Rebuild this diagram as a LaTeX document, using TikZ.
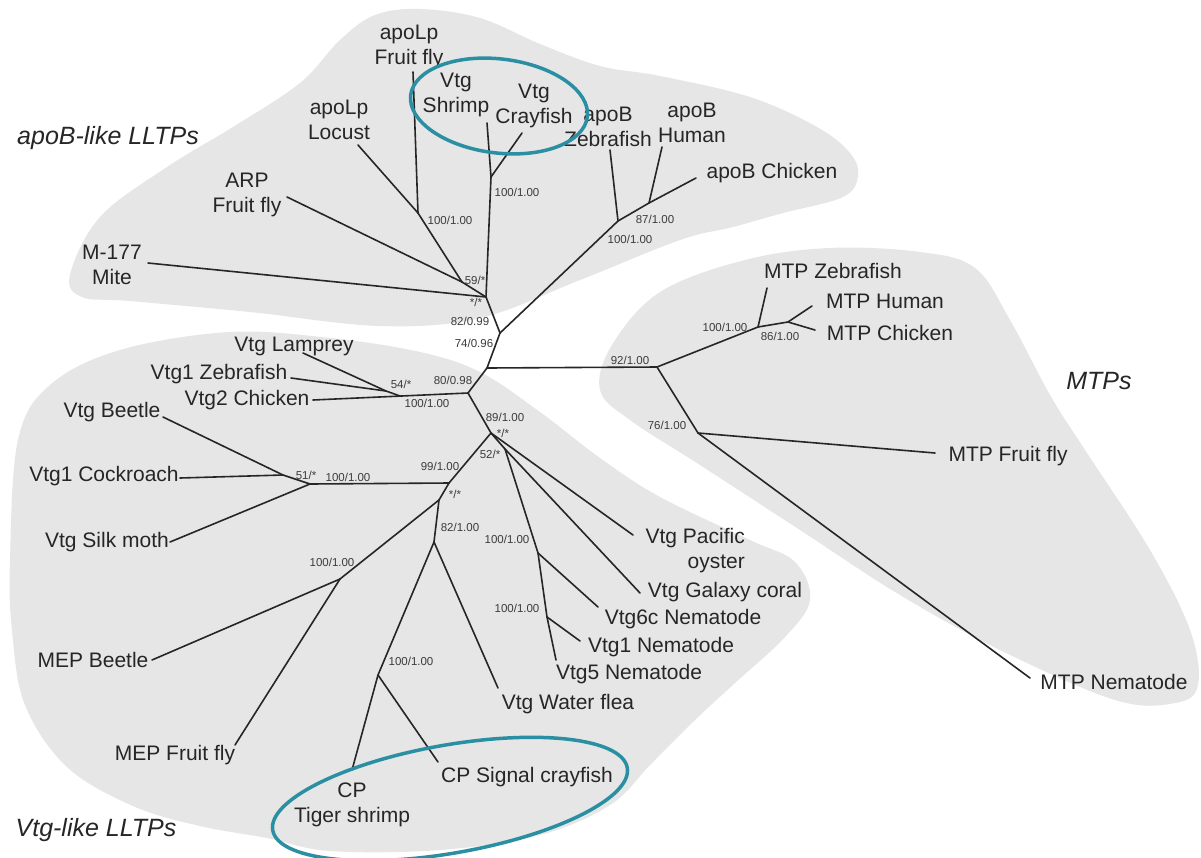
\documentclass[tikz,border=0pt]{standalone}
\usepackage{fontspec}
\setmainfont{Liberation Sans}
\definecolor{ringc}{HTML}{2B8FA3}
\definecolor{blobc}{HTML}{E6E6E6}
\definecolor{inkc}{HTML}{262626}
\begin{document}
\begin{tikzpicture}[x=1pt,y=-1pt,
  br/.style={draw=inkc, line width=1.6pt, line cap=round, line join=round},
  leaf/.style={font=\fontsize{21}{25}\selectfont, text=inkc, inner sep=0pt, align=center},
  bs/.style={font=\fontsize{11.5}{13}\selectfont, text=inkc!90, inner sep=0pt},
  grp/.style={font=\fontsize{25}{30}\selectfont\itshape, text=inkc, inner sep=0pt},
  blob/.style={fill=blobc, draw=none},
  ring/.style={draw=ringc, line width=3.5pt}
]
\useasboundingbox (0,0) rectangle (1201,857);
\fill[white] (0,0) rectangle (1201,857);

% shaded groups
\path[blob] plot[smooth cycle, tension=0.6] coordinates {(70,275) (100,217) (167,167) (233,127) (300,83) (340,40) (375,15) (420,9) (480,18) (540,44) (600,66) (660,76) (750,97) (817,127) (850,153) (858,176) (843,197) (783,213) (733,227) (680,240) (580,280) (480,318) (380,326) (250,312) (130,301) (82,297)};
\path[blob] plot[smooth cycle, tension=0.6] coordinates {(10,560) (18,440) (50,385) (120,350) (230,332) (330,338) (420,352) (480,372) (540,412) (600,458) (660,497) (750,540) (795,562) (810,600) (785,637) (735,683) (695,720) (650,765) (610,805) (540,835) (440,850) (330,851) (267,838) (200,826) (133,806) (67,767) (25,705) (12,630)};
\path[blob] plot[smooth cycle, tension=0.6] coordinates {(600,390) (612,345) (660,292) (745,260) (830,248) (920,252) (975,268) (1010,320) (1050,395) (1085,450) (1150,550) (1190,630) (1198,685) (1175,703) (1115,700) (1000,650) (900,595) (800,530) (700,465) (630,420)};

% group labels
\node[grp] (gApoB) at (108,138) {apoB-like LLTPs};
\node[grp] (gVtg) at (96,830) {Vtg-like LLTPs};
\node[grp] (gMTP) at (1099,381) {MTPs};

% internal nodes
\coordinate (A) at (500,333);
\coordinate (B) at (487,368);
\coordinate (C) at (468,393);
\coordinate (D) at (486,297);
\coordinate (E) at (462,282);
\coordinate (F) at (418,213);
\coordinate (G) at (491,177);
\coordinate (H) at (618,221);
\coordinate (I) at (649,203);
\coordinate (J) at (657,367);
\coordinate (K) at (758,327);
\coordinate (L) at (788,322);
\coordinate (M) at (698,433);
\coordinate (N1) at (386,391);
\coordinate (N2) at (400,396);
\coordinate (O) at (491,433);
\coordinate (P) at (505,449);
\coordinate (R) at (538,553);
\coordinate (S) at (547,617);
\coordinate (T) at (449,483);
\coordinate (U) at (310,484);
\coordinate (V) at (283,475);
\coordinate (W) at (439,500);
\coordinate (X) at (434,542);
\coordinate (Y) at (340,579);
\coordinate (Z) at (378,675);

% leaf ends
\coordinate (eFly) at (413,72);
\coordinate (eLoc) at (358,145);
\coordinate (eARP) at (287,197);
\coordinate (eMite) at (148,263);
\coordinate (eShr) at (487,123);
\coordinate (eCray) at (522,133);
\coordinate (eBZeb) at (610,150);
\coordinate (eBHum) at (662,147);
\coordinate (eBChi) at (696,178);
\coordinate (eMZeb) at (767,288);
\coordinate (eMHum) at (812,306);
\coordinate (eMChi) at (815,330);
\coordinate (eMFly) at (935,453);
\coordinate (eMNem) at (1030,678);
\coordinate (eVLam) at (303,353);
\coordinate (eVZeb) at (291,378);
\coordinate (eVChi) at (313,400);
\coordinate (eOys) at (633,535);
\coordinate (eCor) at (640,593);
\coordinate (eN6) at (598,607);
\coordinate (eN1) at (580,641);
\coordinate (eN5) at (556,660);
\coordinate (eBee) at (163,417);
\coordinate (eCoc) at (180,478);
\coordinate (eSilk) at (170,542);
\coordinate (eMEPB) at (152,660);
\coordinate (eMEPF) at (235,745);
\coordinate (eWat) at (498,688);
\coordinate (eTig) at (352,770);
\coordinate (eSig) at (438,762);

% branches
\draw[br] (eFly) -- (F);
\draw[br] (eLoc) -- (F);
\draw[br] (F) -- (E);
\draw[br] (eARP) -- (E);
\draw[br] (E) -- (D);
\draw[br] (eMite) -- (D);
\draw[br] (eShr) -- (G);
\draw[br] (eCray) -- (G);
\draw[br] (G) -- (D);
\draw[br] (D) -- (A);
\draw[br] (eBZeb) -- (H);
\draw[br] (eBHum) -- (I);
\draw[br] (eBChi) -- (I);
\draw[br] (I) -- (H);
\draw[br] (H) -- (A);
\draw[br] (A) -- (B);
\draw[br] (B) -- (C);
\draw[br] (B) -- (J);
\draw[br] (J) -- (K);
\draw[br] (eMZeb) -- (K);
\draw[br] (K) -- (L);
\draw[br] (eMHum) -- (L);
\draw[br] (eMChi) -- (L);
\draw[br] (J) -- (M);
\draw[br] (M) -- (eMFly);
\draw[br] (M) -- (eMNem);
\draw[br] (eVLam) -- (N1);
\draw[br] (eVZeb) -- (N1);
\draw[br] (N1) -- (N2);
\draw[br] (eVChi) -- (C);
\draw[br] (C) -- (O);
\draw[br] (O) -- (eOys);
\draw[br] (O) -- (P);
\draw[br] (P) -- (eCor);
\draw[br] (P) -- (R);
\draw[br] (R) -- (eN6);
\draw[br] (R) -- (S);
\draw[br] (S) -- (eN1);
\draw[br] (S) -- (eN5);
\draw[br] (O) -- (T);
\draw[br] (T) -- (U);
\draw[br] (U) -- (eSilk);
\draw[br] (U) -- (V);
\draw[br] (V) -- (eBee);
\draw[br] (V) -- (eCoc);
\draw[br] (T) -- (W);
\draw[br] (W) -- (Y);
\draw[br] (Y) -- (eMEPB);
\draw[br] (Y) -- (eMEPF);
\draw[br] (W) -- (X);
\draw[br] (X) -- (eWat);
\draw[br] (X) -- (Z);
\draw[br] (Z) -- (eTig);
\draw[br] (Z) -- (eSig);

% leaf labels
\node[leaf] (lAFly) at (409,47) {apoLp\\Fruit fly};
\node[leaf] (lALoc) at (339,120) {apoLp\\Locust};
\node[leaf] (lARP) at (247,195) {ARP\\Fruit fly};
\node[leaf] (lMite) at (112,265) {M-177\\Mite};
\node[leaf] (lShr) at (456,95) {Vtg\\Shrimp};
\node[leaf] (lCray) at (534,106) {Vtg\\Crayfish};
\node[leaf] (lBZeb) at (608,127) {apoB\\Zebrafish};
\node[leaf] (lBHum) at (692,123) {apoB\\Human};
\node[leaf] (lBChi) at (772,173) {apoB Chicken};
\node[leaf] (lMZeb) at (833,271) {MTP Zebrafish};
\node[leaf] (lMHum) at (885,301) {MTP Human};
\node[leaf] (lMChi) at (890,333) {MTP Chicken};
\node[leaf] (lMFly) at (1008,456) {MTP Fruit fly};
\node[leaf] (lMNem) at (1114,682) {MTP Nematode};
\node[leaf] (lVLam) at (294,346) {Vtg Lamprey};
\node[leaf] (lVZeb) at (219,374) {Vtg1 Zebrafish};
\node[leaf] (lVChi) at (247,400) {Vtg2 Chicken};
\node[leaf] (lBee) at (112,412) {Vtg Beetle};
\node[leaf] (lCoc) at (104,476) {Vtg1 Cockroach};
\node[leaf] (lSilk) at (107,542) {Vtg Silk moth};
\node[leaf] (lMEPB) at (93,660) {MEP Beetle};
\node[leaf] (lMEPF) at (175,755) {MEP Fruit fly};
\node[leaf] (lTig) at (352,805) {CP\\Tiger shrimp};
\node[leaf] (lSig) at (527,777) {CP Signal crayfish};
\node[leaf] (lWat) at (568,704) {Vtg Water flea};
\node[leaf] (lN5) at (629,674) {Vtg5 Nematode};
\node[leaf] (lN1) at (661,647) {Vtg1 Nematode};
\node[leaf] (lN6) at (683,619) {Vtg6c Nematode};
\node[leaf] (lCor) at (725,592) {Vtg Galaxy coral};
\node[leaf, align=right, anchor=east] (lOys) at (745,551) {Vtg Pacific\\oyster};

% support values
\node[bs] (bF) at (450,220) {100/1.00};
\node[bs] (bG) at (517,192) {100/1.00};
\node[bs] (bE) at (475,280) {59/*};
\node[bs] (bD) at (476,302) {*/*};
\node[bs] (bD2) at (470,321) {82/0.99};
\node[bs] (bA) at (474,343) {74/0.96};
\node[bs] (bC) at (453,380) {80/0.98};
\node[bs] (bJ) at (630,360) {92/1.00};
\node[bs] (bI) at (655,219) {87/1.00};
\node[bs] (bH) at (630,239) {100/1.00};
\node[bs] (bK) at (725,327) {100/1.00};
\node[bs] (bL) at (780,336) {86/1.00};
\node[bs] (bM) at (667,425) {76/1.00};
\node[bs] (bN1) at (401,384) {54/*};
\node[bs] (bN2) at (427,403) {100/1.00};
\node[bs] (bO1) at (505,417) {89/1.00};
\node[bs] (bO2) at (503,433) {*/*};
\node[bs] (bP) at (490,454) {52/*};
\node[bs] (bT) at (440,466) {99/1.00};
\node[bs] (bV) at (306,475) {51/*};
\node[bs] (bU) at (348,477) {100/1.00};
\node[bs] (bW) at (455,494) {*/*};
\node[bs] (bX) at (460,527) {82/1.00};
\node[bs] (bR) at (507,539) {100/1.00};
\node[bs] (bS) at (517,608) {100/1.00};
\node[bs] (bY) at (332,562) {100/1.00};
\node[bs] (bZ) at (411,661) {100/1.00};

% highlight rings
\draw[ring, rotate around={-7:(499,106)}] (499,106) ellipse [x radius=89, y radius=47];
\draw[ring, rotate around={10:(450,799)}] (450,799) ellipse [x radius=180, y radius=54];
\end{tikzpicture}
\end{document}
